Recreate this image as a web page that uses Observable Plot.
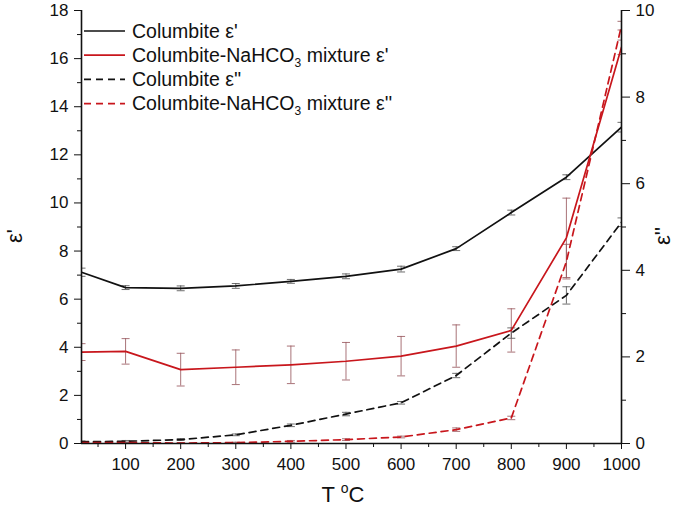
<!DOCTYPE html>
<html>
<head>
<meta charset="utf-8">
<script src="https://cdn.jsdelivr.net/npm/d3@7"></script>
<script src="https://cdn.jsdelivr.net/npm/@observablehq/plot@0.6"></script>
<style>
  html, body { margin: 0; padding: 0; background: #fff; }
  #chart { width: 685px; height: 513px; }
  svg { font-family: "Liberation Sans", Arial, sans-serif; }
</style>
</head>
<body>
<div id="chart"></div>
<script>
// ---- data ----
const temps = [20, 100, 200, 300, 400, 500, 600, 700, 800, 900, 1000];
const columbiteEps1 = [7.12, 6.48, 6.45, 6.55, 6.74, 6.95, 7.25, 8.1, 9.6, 11.07, 13.15];
const columbiteEps1Err = [0.17, 0.08, 0.1, 0.1, 0.08, 0.1, 0.12, 0.08, 0.1, 0.1, 0.2];
const mixtureEps1 = [3.8, 3.83, 3.07, 3.17, 3.27, 3.42, 3.63, 4.05, 4.7, 8.55, 16.47];
const mixtureEps1Err = [0.35, 0.53, 0.68, 0.72, 0.78, 0.78, 0.82, 0.88, 0.9, 1.65, 0.3];
const columbiteEps2 = [0.04, 0.05, 0.09, 0.2, 0.42, 0.68, 0.94, 1.57, 2.55, 3.42, 5.11];
const columbiteEps2Err = [0.02, 0.02, 0.02, 0.02, 0.03, 0.04, 0.03, 0.05, 0.12, 0.2, 0.1];
const mixtureEps2 = [0.02, 0.02, 0.01, 0.02, 0.05, 0.09, 0.15, 0.32, 0.59, 4.2, 9.65];
const mixtureEps2Err = [0.01, 0.01, 0.01, 0.01, 0.02, 0.02, 0.02, 0.04, 0.04, 0.4, 0.1];
const legendLabels = ["Columbite ε'", "Columbite-NaHCO|3| mixture ε'", "Columbite ε''", "Columbite-NaHCO|3| mixture ε''"];
const xTicks = [100, 200, 300, 400, 500, 600, 700, 800, 900, 1000];
const xMinorTicks = [50, 150, 250, 350, 450, 550, 650, 750, 850, 950];
const leftTicks = [0, 2, 4, 6, 8, 10, 12, 14, 16, 18];
const leftMinorTicks = [1, 3, 5, 7, 9, 11, 13, 15, 17];
const rightTicks = [0, 2, 4, 6, 8, 10];
const rightMinorTicks = [1, 3, 5, 7, 9];
const xDomain = [20, 1000];
const leftDomain = [0, 18];
const rightMax = 10;

// ---- build ----
const k = leftDomain[1] / rightMax; // right-axis value -> left scale
const BLACK = "#111", RED = "#c8161c";
const series = [
  {name: legendLabels[0], v: columbiteEps1, e: columbiteEps1Err, s: 1, color: BLACK, dash: null, errColor: "#555"},
  {name: legendLabels[1], v: mixtureEps1, e: mixtureEps1Err, s: 1, color: RED, dash: null, errColor: "#9a5a60"},
  {name: legendLabels[2], v: columbiteEps2, e: columbiteEps2Err, s: k, color: BLACK, dash: "7,5", errColor: "#555"},
  {name: legendLabels[3], v: mixtureEps2, e: mixtureEps2Err, s: k, color: RED, dash: "7,5", errColor: "#9a5a60"}
];
const rows = s => temps.map((t, i) => ({T: t, y: s.v[i] * s.s, y1: (s.v[i] - s.e[i]) * s.s, y2: (s.v[i] + s.e[i]) * s.s}));

const cap = {draw(ctx, size) { const r = Math.sqrt(size / Math.PI); ctx.moveTo(-r, 0); ctx.lineTo(r, 0); }};

const marks = [];
for (const s of series) {
  const d = rows(s);
  marks.push(Plot.ruleX(d, {x: "T", y1: "y1", y2: "y2", stroke: s.errColor, strokeWidth: 1, strokeOpacity: 0.85, clip: true}));
  marks.push(Plot.dot(d, {x: "T", y: "y1", symbol: cap, r: 4, stroke: s.errColor, strokeWidth: 1, strokeOpacity: 0.85, fill: "none", clip: true}));
  marks.push(Plot.dot(d, {x: "T", y: "y2", symbol: cap, r: 4, stroke: s.errColor, strokeWidth: 1, strokeOpacity: 0.85, fill: "none", clip: true}));
}
for (const s of series) {
  marks.push(Plot.line(rows(s), {x: "T", y: "y", stroke: s.color, strokeWidth: 1.7, strokeDasharray: s.dash, clip: true}));
}
const fs = 17;
marks.push(
  Plot.axisX(xTicks, {tickSize: 6, tickPadding: 8, fontSize: fs, label: null, tickFormat: d => String(d)}),
  Plot.axisX(xMinorTicks, {tickSize: 4, tickFormat: () => "", label: null}),
  Plot.axisY(leftTicks, {anchor: "left", tickSize: 7, tickPadding: 6, fontSize: fs, label: null}),
  Plot.axisY(leftMinorTicks, {anchor: "left", tickSize: 4, tickFormat: () => "", label: null}),
  Plot.axisY(rightTicks.map(d => d * k), {anchor: "right", tickSize: 8, tickPadding: 6, fontSize: fs, label: null, tickFormat: d => String(Math.round(d / k))}),
  Plot.axisY(rightMinorTicks.map(d => d * k), {anchor: "right", tickSize: 4, tickFormat: () => "", label: null}),
  Plot.ruleX([xDomain[0]], {stroke: "#111", strokeWidth: 1.6}),
  Plot.ruleX([xDomain[1]], {stroke: "#111", strokeWidth: 1.6}),
  Plot.ruleY([leftDomain[0]], {stroke: "#111", strokeWidth: 1.6})
);

const chart = Plot.plot({
  width: 685, height: 513,
  marginLeft: 81, marginRight: 64, marginTop: 10, marginBottom: 70,
  x: {domain: xDomain},
  y: {domain: leftDomain},
  style: {fontFamily: "'Liberation Sans', Arial, sans-serif", color: "#111", background: "#fff"},
  marks
});

const svg = d3.select(chart);
const tx = svg.append("text").attr("x", 343).attr("y", 502).attr("text-anchor", "middle")
  .attr("font-size", 22).attr("fill", "#111");
tx.append("tspan").text("T ");
tx.append("tspan").text("o").attr("font-size", 14).attr("dy", -9);
tx.append("tspan").text("C").attr("dy", 9);
svg.append("text").attr("transform", "translate(22,236) rotate(-90)").attr("text-anchor", "middle")
  .attr("font-size", 22).attr("fill", "#111").text("ε'");
svg.append("text").attr("transform", "translate(670,236) rotate(-90)").attr("text-anchor", "middle")
  .attr("font-size", 22).attr("fill", "#111").text("ε''");

const lg = svg.append("g").attr("font-size", 19.5).attr("fill", "#111").attr("text-anchor", "start");
series.forEach((s, i) => {
  const y = 31 + i * 24.2;
  lg.append("line").attr("x1", 84).attr("x2", 125).attr("y1", y).attr("y2", y)
    .attr("stroke", s.color).attr("stroke-width", 1.7).attr("stroke-dasharray", s.dash);
  const t = lg.append("text").attr("x", 132).attr("y", y + 6.5).attr("text-anchor", "start");
  const parts = s.name.split("|");
  t.append("tspan").text(parts[0]);
  if (parts.length > 1) {
    t.append("tspan").text(parts[1]).attr("font-size", 12).attr("dy", 5);
    t.append("tspan").text(parts[2]).attr("dy", -5);
  }
});

document.getElementById("chart").appendChild(chart);
</script>
</body>
</html>
